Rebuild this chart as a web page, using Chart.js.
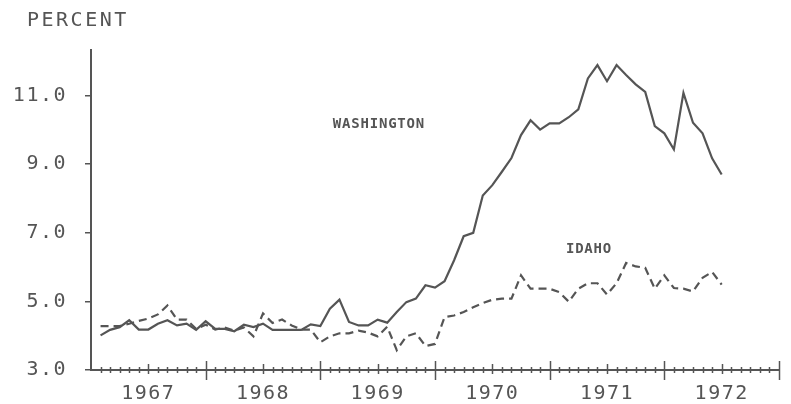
<!DOCTYPE html>
<html>
<head>
<meta charset="utf-8">
<script src="https://cdn.jsdelivr.net/npm/chart.js@4/dist/chart.umd.min.js"></script>
<style>
  html, body { margin: 0; padding: 0; background: #fff; }
  #wrap { width: 791px; height: 404px; }
</style>
</head>
<body>
<div id="wrap"><canvas id="chart" width="791" height="404"></canvas></div>
<script>
// months counted from Jan 1967 (0); first reading is Feb 1967
const firstMonth = 1
const years = ['1967', '1968', '1969', '1970', '1971', '1972']
const yTicks = [3, 5, 7, 9, 11]

// unemployment rate, percent, monthly
const washington = [
  4.01, 4.17, 4.25, 4.45, 4.18, 4.18, 4.35, 4.45, 4.30, 4.35, 4.17, 4.42,
  4.20, 4.20, 4.13, 4.32, 4.25, 4.35, 4.17, 4.17, 4.17, 4.17, 4.33, 4.28,
  4.79, 5.05, 4.40, 4.30, 4.30, 4.47, 4.38, 4.69, 4.98, 5.08, 5.47, 5.40,
  5.59, 6.20, 6.90, 7.00, 8.09, 8.39, 8.78, 9.18, 9.85, 10.28, 10.01, 10.19,
  10.19, 10.37, 10.60, 11.50, 11.89, 11.42, 11.89, 11.60, 11.33, 11.11, 10.11, 9.90,
  9.43, 11.08, 10.21, 9.90, 9.17, 8.70
]
const idaho = [
  4.28, 4.28, 4.28, 4.35, 4.43, 4.50, 4.62, 4.88, 4.47, 4.47, 4.20, 4.32,
  4.18, 4.24, 4.15, 4.24, 3.98, 4.65, 4.37, 4.47, 4.30, 4.18, 4.18, 3.81,
  3.98, 4.07, 4.07, 4.15, 4.09, 3.98, 4.26, 3.58, 3.98, 4.07, 3.70, 3.76,
  4.54, 4.59, 4.69, 4.83, 4.95, 5.05, 5.08, 5.08, 5.76, 5.37, 5.37, 5.37,
  5.27, 4.99, 5.37, 5.53, 5.53, 5.20, 5.53, 6.12, 6.02, 5.98, 5.37, 5.76,
  5.39, 5.37, 5.29, 5.69, 5.86, 5.49
]

// in-chart labels, placed in data units (month, percent)
const notes = [
  {text: 'WASHINGTON', x: 25.3, y: 10.15},
  {text: 'IDAHO', x: 49.7, y: 6.52}
]

const ink = '#555'
const monoFont = "'DejaVu Sans Mono', 'Liberation Mono', monospace"

function toPoints (arr) {
  return arr.map((v, i) => ({x: firstMonth + i, y: v}))
}

// wider plotter-like lettering for the axis labels
const spacing = {
  id: 'spacing',
  beforeDraw (chart) {
    chart.ctx.letterSpacing = '1.5px'
  }
}

// draws the plotter style month / half-year / year ticks on the time axis
const monthTicks = {
  id: 'monthTicks',
  afterDraw (chart) {
    const ctx = chart.ctx
    const xs = chart.scales.x
    const base = chart.chartArea.bottom
    ctx.save()
    ctx.strokeStyle = ink
    ctx.lineWidth = 1.5
    for (let m = 1; m <= 72; m++) {
      const px = Math.round(xs.getPixelForValue(m)) + 0.5
      let up = 3, down = 3
      if (m % 12 === 0) { up = 9; down = 10 }
      else if (m % 6 === 0) { up = 6; down = 4 }
      ctx.beginPath()
      ctx.moveTo(px, base - up)
      ctx.lineTo(px, base + down)
      ctx.stroke()
    }
    ctx.restore()
  }
}

// title over the value axis and the state names beside the lines
const textBits = {
  id: 'textBits',
  afterDraw (chart) {
    const ctx = chart.ctx
    ctx.save()
    ctx.fillStyle = ink
    ctx.textBaseline = 'middle'
    ctx.textAlign = 'left'
    ctx.letterSpacing = '2.5px'
    ctx.font = '20px ' + monoFont
    ctx.fillText('PERCENT', 27, 21)
    ctx.letterSpacing = '0.8px'
    ctx.font = 'bold 14px ' + monoFont
    notes.forEach(n => {
      ctx.fillText(n.text, chart.scales.x.getPixelForValue(n.x), chart.scales.y.getPixelForValue(n.y))
    })
    ctx.restore()
  }
}

new Chart(document.getElementById('chart'), {
  type: 'line',
  data: {
    datasets: [
      {
        label: 'Washington',
        data: toPoints(washington),
        borderColor: ink,
        borderWidth: 2.2,
        pointRadius: 0,
        tension: 0
      },
      {
        label: 'Idaho',
        data: toPoints(idaho),
        borderColor: ink,
        borderWidth: 2.2,
        borderDash: [8, 5],
        pointRadius: 0,
        tension: 0
      }
    ]
  },
  options: {
    responsive: false,
    animation: false,
    layout: { padding: { top: 50, right: 10, left: 0, bottom: 0 } },
    plugins: {
      legend: { display: false },
      tooltip: { enabled: false }
    },
    scales: {
      x: {
        type: 'linear',
        min: 0,
        max: 72,
        afterFit: (scale) => { scale.height = 34 },
        grid: { display: false, drawTicks: false },
        border: { display: true, color: ink, width: 2 },
        ticks: {
          stepSize: 6,
          autoSkip: false,
          maxRotation: 0,
          padding: 12,
          color: ink,
          font: { family: monoFont, size: 20 },
          callback: (v) => (v % 12 === 6 ? years[(v - 6) / 12] : '')
        }
      },
      y: {
        min: 3,
        max: 12.33,
        afterFit: (scale) => { scale.width = 91 },
        afterBuildTicks: (scale) => { scale.ticks = yTicks.map(v => ({value: v})) },
        grid: { drawOnChartArea: false, tickLength: 6, color: ink, lineWidth: 1.5 },
        border: { display: true, color: ink, width: 2 },
        ticks: {
          padding: 18,
          color: ink,
          font: { family: monoFont, size: 20 },
          callback: (v) => v.toFixed(1)
        }
      }
    }
  },
  plugins: [spacing, monthTicks, textBits]
})
</script>
</body>
</html>
